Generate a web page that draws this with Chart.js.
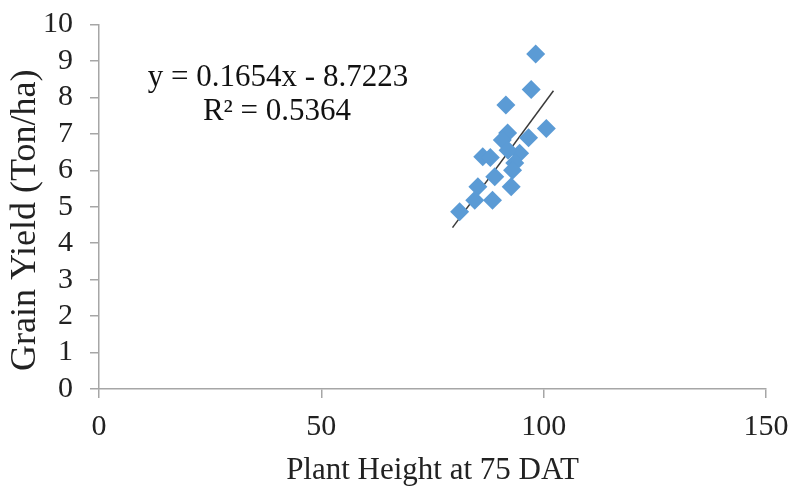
<!DOCTYPE html>
<html>
<head>
<meta charset="utf-8">
<script src="https://cdn.jsdelivr.net/npm/chart.js@4/dist/chart.umd.min.js"></script>
<style>
html,body{margin:0;padding:0;background:#fff;}
#wrap{width:790px;height:490px;position:relative;}
</style>
</head>
<body>
<div id="wrap"><canvas id="c" width="790" height="490"></canvas></div>
<script>
const plantHeight = [98.2, 97.2, 91.5, 100.6, 91.9, 90.7, 96.6, 86.3, 94.6, 93.5, 93.0, 89.0, 85.2, 92.7, 88.5, 84.5, 81.1, 88.0, 92.0];
const grainYield  = [9.19, 8.22, 7.79, 7.15, 7.02, 6.83, 6.89, 6.37, 6.47, 6.20, 6.00, 5.82, 5.55, 5.55, 5.18, 5.18, 4.86, 6.35, 6.55];
const trendX = [79.5, 102.2];
const slope = 0.1654, intercept = -8.7223;
const equationLines = ["y = 0.1654x - 8.7223", "R\u00B2 = 0.5364"];
const xTicks = [0, 50, 100, 150];
const yTicks = [0,1,2,3,4,5,6,7,8,9,10];

const points = plantHeight.map((x,i)=>({x:x, y:grainYield[i]}));
const trend = trendX.map(x=>({x:x, y:slope*x+intercept}));

const serif = "'Liberation Serif', 'Times New Roman', serif";

const eqPlugin = {
  id:'eq',
  afterDraw(chart){
    const ctx = chart.ctx;
    ctx.save();
    ctx.fillStyle = '#111';
    ctx.font = "31px " + serif;
    ctx.textAlign = 'center';
    ctx.textBaseline = 'middle';
    ctx.fillText(equationLines[0], 278, 78);
    ctx.fillText(equationLines[1], 277, 112);
    ctx.restore();
  }
};

new Chart(document.getElementById('c'), {
  type:'scatter',
  data:{
    datasets:[
      {
        label:'Data',
        data:points,
        pointStyle:'rectRot',
        pointRadius:9.5,
        pointHoverRadius:9.5,
        backgroundColor:'#5B9BD5',
        borderColor:'#5B9BD5',
        borderWidth:0
      },
      {
        label:'Trend',
        type:'line',
        data:trend,
        borderColor:'#3a3a3a',
        borderWidth:1.5,
        pointRadius:0,
        fill:false
      }
    ]
  },
  options:{
    responsive:false,
    animation:false,
    layout:{padding:{left:0, right:24, top:24.5, bottom:0}},
    plugins:{legend:{display:false}, tooltip:{enabled:false}},
    scales:{
      x:{
        type:'linear', min:0, max:150,
        afterBuildTicks(s){ s.ticks = xTicks.map(v=>({value:v})); },
        afterFit(s){ s.height = 101; s.paddingLeft = 0; s.paddingRight = 0; },
        grid:{display:true, drawOnChartArea:false, tickLength:9, color:'#a6a6a6', lineWidth:1.5},
        border:{display:true, color:'#a6a6a6', width:1.5},
        ticks:{color:'#222', font:{family:serif, size:30}, padding:11, autoSkip:false, maxRotation:0},
        title:{display:true, text:'Plant Height at 75 DAT', color:'#222', font:{family:serif, size:31}, padding:{top:4, bottom:1}}
      },
      y:{
        type:'linear', min:0, max:10,
        afterBuildTicks(s){ s.ticks = yTicks.map(v=>({value:v})); },
        afterFit(s){ s.width = 99; s.paddingTop = 0; s.paddingBottom = 0; },
        grid:{display:true, drawOnChartArea:false, tickLength:9, color:'#a6a6a6', lineWidth:1.5},
        border:{display:true, color:'#a6a6a6', width:1.5},
        ticks:{color:'#222', font:{family:serif, size:30}, padding:17, autoSkip:false},
        title:{display:true, text:'Grain Yield (Ton/ha)   ', color:'#222', font:{family:serif, size:36}, padding:{top:4, bottom:0}}
      }
    }
  },
  plugins:[eqPlugin]
});
</script>
</body>
</html>
